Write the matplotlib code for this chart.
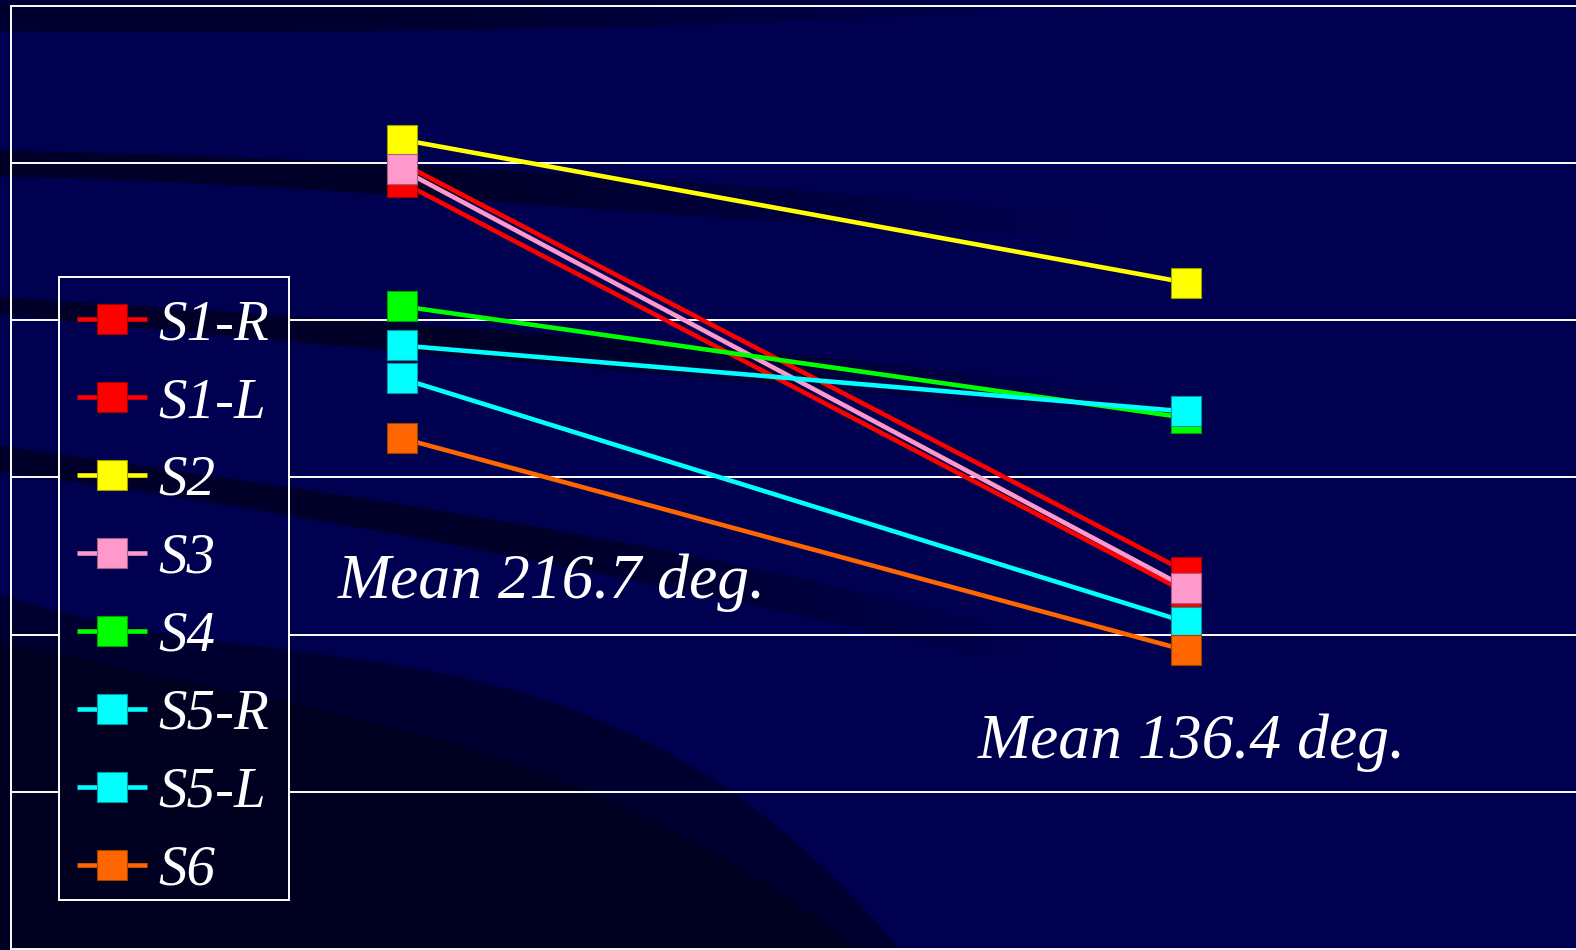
import numpy as np
import matplotlib
matplotlib.use("Agg")
import matplotlib.pyplot as plt
from matplotlib.font_manager import FontProperties
from matplotlib.patches import Rectangle

# Joint angle (deg) of each subject at the two measurement points
subjects = ["S1-R", "S1-L", "S2", "S3", "S4", "S5-R", "S5-L", "S6"]
first_angle = [250.0, 244.0, 257.5, 248.0, 204.5, 192.0, 181.5, 162.5]
second_angle = [120.0, 113.5, 212.0, 115.0, 169.0, 171.0, 104.0, 95.0]
positions = [0, 1]
line_colors = ["#FF0000", "#FF0000", "#FFFF00", "#FF99CC",
               "#00FF00", "#00FFFF", "#00FFFF", "#FF6600"]
edge_colors = ["#A00000", "#A00000", "#A0A000", "#A0607F",
               "#00A000", "#009A9A", "#009A9A", "#A04000"]
mean_labels = ["Mean 216.7 deg.", "Mean 136.4 deg."]
grid_values = [50, 100, 150, 200, 250]
y_range = (0, 300)

W, H = 1576, 950
NAVY = "#000050"
serif_it = "Liberation Serif"

fig = plt.figure(figsize=(W / 100, H / 100), dpi=100, facecolor=NAVY)

# ---- slide background: navy with dark swoosh bands ----
yy, xx = np.mgrid[0:H, 0:W].astype(float)
shade = np.zeros((H, W))


def edge(xp, yp, xs):
    c = np.polyfit(xp, yp, min(3, len(xp) - 1))
    return np.polyval(c, xs)


def swoosh(xp, top, bot, strength, fade=None):
    global shade
    cols = np.arange(W, dtype=float)
    t = edge(xp, top, cols)
    b = edge(xp, bot, cols) if bot is not None else np.full(W, H + 10.0)
    inside = (np.clip(yy - t[None, :] + 0.5, 0, 1)
              * np.clip(b[None, :] - yy + 0.5, 0, 1))
    inside[:, cols > xp[-1]] = 0
    k = np.full(W, strength)
    if fade is not None:
        f0, f1 = fade
        k *= np.clip((f1 - cols) / (f1 - f0), 0, 1)
    shade = np.maximum(shade, inside * k[None, :])


swoosh([0, 500, 900, 1150], [0, 0, 0, 0], [31, 29, 16, 0], 0.4, (450, 1100))
swoosh([0, 400, 800, 1150], [150, 164, 190, 222], [176, 195, 222, 236],
       0.48, (450, 1100))
swoosh([0, 300, 540, 900, 1250], [296, 318, 330, 366, 410],
       [314, 343, 362, 396, 430], 0.48, (550, 1150))
swoosh([0, 287, 574, 800, 1050], [445, 488, 530, 580, 640],
       [471, 518, 562, 620, 670], 0.48, (550, 1050))
swoosh([0, 300, 574, 746, 900], [594, 650, 712, 800, 950], None, 0.4)
swoosh([0, 300, 560, 760, 860], [640, 705, 780, 880, 950], None, 0.58)

base = np.array([0.0, 0.0, 80 / 255])
img = base[None, None, :] * (1 - shade[:, :, None])

bg = fig.add_axes([0, 0, 1, 1], zorder=0)
bg.imshow(img, extent=(0, W, H, 0), aspect="auto", interpolation="bilinear")
bg.set_xlim(0, W)
bg.set_ylim(H, 0)
bg.axis("off")

# legend box outline (pixel space)
box_x0, box_y0, box_x1, box_y1 = 59.3, 276.7, 288.7, 900.0
bg.add_patch(Rectangle((box_x0, box_y0), box_x1 - box_x0, box_y1 - box_y0,
                       fill=False, edgecolor="white", lw=1.4, zorder=5))

# ---- chart ----
ax_x0, ax_x1 = 11, W
ax = fig.add_axes([ax_x0 / W, 1 / H, (ax_x1 - ax_x0) / W, (949 - 6) / H],
                  zorder=1)
ax.patch.set_alpha(0)
ax.set_xlim(-0.4978, 1.497)
ax.set_ylim(*y_range)
ax.set_xticks([])
ax.set_yticks([])
for side in ("left", "top", "bottom"):
    ax.spines[side].set_color("white")
    ax.spines[side].set_linewidth(1.4)
ax.spines["right"].set_visible(False)

for i, name in enumerate(subjects):
    ax.plot(positions, [first_angle[i], second_angle[i]],
            color=line_colors[i], lw=3.3, solid_capstyle="butt",
            marker="s", ms=21.6, mfc=line_colors[i], mec=edge_colors[i],
            mew=0.8, label=name, zorder=3 + 0.01 * i, clip_on=False)

leg_font = FontProperties(family=serif_it, style="italic", size=41)
leg = ax.legend(loc="upper left",
                bbox_to_anchor=((box_x0 + 1.5) / W, 1 - (box_y0 + 6.5) / H),
                bbox_transform=fig.transFigure, prop=leg_font,
                handlelength=1.24, handletextpad=0.185, labelspacing=0.455,
                borderpad=0.28, borderaxespad=0, frameon=False,
                labelcolor="white")
leg.set_zorder(5)

mean_font = FontProperties(family=serif_it, style="italic", size=45.8)
fig.text(338 / W, 1 - 598.3 / H, mean_labels[0], fontproperties=mean_font,
         color="white", ha="left", va="baseline", zorder=6)
fig.text(978 / W, 1 - 758.3 / H, mean_labels[1], fontproperties=mean_font,
         color="white", ha="left", va="baseline", zorder=6)

# horizontal gridlines, kept out of the legend box
span_w = ax_x1 - ax_x0
lx0 = (box_x0 - ax_x0) / span_w
lx1 = (box_x1 - ax_x0) / span_w
fig.canvas.draw()
for v in grid_values:
    ypx = H - ax.transData.transform((0, v))[1]
    if box_y0 <= ypx <= box_y1:
        spans = [(0, lx0), (lx1, 1)]
    else:
        spans = [(0, 1)]
    for a, b in spans:
        ax.axhline(v, a, b, color="white", lw=1.4, zorder=2)

fig.savefig("out.png", dpi=100, facecolor=NAVY)
